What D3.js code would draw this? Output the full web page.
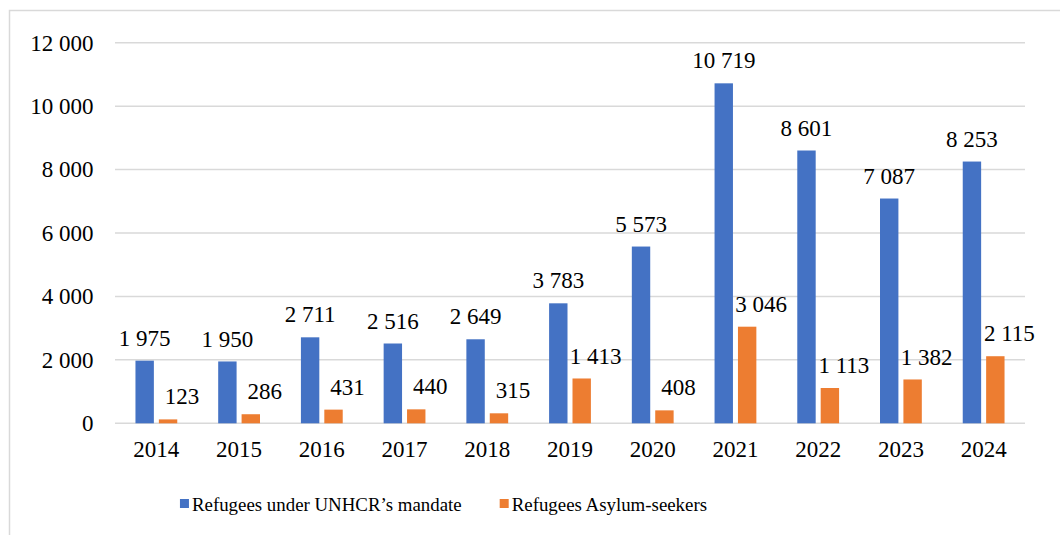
<!DOCTYPE html>
<html>
<head>
<meta charset="utf-8">
<script src="https://cdn.jsdelivr.net/npm/d3@7"></script>
</head>
<body style="margin:0">
<svg id="chart" width="1060" height="535"></svg>
<script>
const years = ["2014","2015","2016","2017","2018","2019","2020","2021","2022","2023","2024"];
const refugeesMandate = [1975, 1950, 2711, 2516, 2649, 3783, 5573, 10719, 8601, 7087, 8253];
const asylumSeekers = [123, 286, 431, 440, 315, 1413, 408, 3046, 1113, 1382, 2115];
const yTicks = [0, 2000, 4000, 6000, 8000, 10000, 12000];
const seriesNames = ["Refugees under UNHCR\u2019s mandate", "Refugees Asylum-seekers"];
const seriesColors = ["#4472C4", "#ED7D31"];

const FONT = '"Liberation Serif", "Times New Roman", serif';
const svg = d3.select("#chart");

function measure(str, size) {
  const t = svg.append("text").style("font-family", FONT).style("font-size", size + "px").text(str);
  const w = t.node().getComputedTextLength();
  t.remove();
  return w;
}
const numSize = Math.min(23, 23 * 66 / measure("12 000", 23));

// outer frame
svg.append("rect").attr("x", 9.5).attr("y", 10.5).attr("width", 1100).attr("height", 600)
  .attr("fill", "none").attr("stroke", "#d9d9d9").attr("stroke-width", 1.5);

const plot = { left: 115, right: 1025, top: 42.7, bottom: 423.3 };
const x = d3.scaleBand().domain(years).range([plot.left, plot.right]).paddingInner(0).paddingOuter(0);
const y = d3.scaleLinear().domain([0, 12000]).range([plot.bottom, plot.top]);

const fmt = v => d3.format(",")(v).replace(/,/g, " ");

// gridlines
svg.append("g").selectAll("line").data(yTicks).join("line")
  .attr("x1", plot.left).attr("x2", plot.right)
  .attr("y1", d => y(d)).attr("y2", d => y(d))
  .attr("stroke", "#d9d9d9").attr("stroke-width", 1.5);

function styleText(sel, size) {
  sel.style("font-family", FONT).style("font-size", size + "px").attr("fill", "#000");
}

// y axis labels
const yAxis = d3.axisLeft(y).tickValues(yTicks).tickFormat(fmt).tickSize(0).tickPadding(0);
const yg = svg.append("g").attr("transform", `translate(${plot.left - 21.5},0)`).call(yAxis);
yg.attr("font-family", null).attr("font-size", null);
yg.select(".domain").remove();
styleText(yg.selectAll("text"), numSize);

// x axis labels
const xAxis = d3.axisBottom(x).tickSize(0).tickPadding(0);
const xg = svg.append("g").attr("transform", `translate(0,${plot.bottom + 17})`).call(xAxis);
xg.attr("font-family", null).attr("font-size", null);
xg.select(".domain").remove();
styleText(xg.selectAll("text"), numSize);

const barW = 18.4, gap = 5;
const sub = d3.scaleOrdinal().domain([0, 1]).range([-gap / 2 - barW, gap / 2]);

const series = [refugeesMandate, asylumSeekers];
series.forEach((vals, si) => {
  const g = svg.append("g");
  const cx = d => x(years[d]) + x.bandwidth() / 2;
  g.selectAll("rect").data(vals.map((v, i) => ({ v, i }))).join("rect")
    .attr("x", d => cx(d.i) + sub(si))
    .attr("y", d => y(d.v))
    .attr("width", barW)
    .attr("height", d => y(0) - y(d.v))
    .attr("fill", seriesColors[si]);
  const labelShift = si === 0 ? 0 : 14;
  const t = g.selectAll("text").data(vals.map((v, i) => ({ v, i }))).join("text")
    .attr("x", d => cx(d.i) + sub(si) + barW / 2 + labelShift)
    .attr("y", d => y(d.v) - 23)
    .attr("dy", "0.35em")
    .attr("text-anchor", "middle")
    .text(d => fmt(d.v));
  styleText(t, numSize);
});

// legend: centred on the reference legend centre, items laid out by measured width
const legSize = Math.min(22, 22 * 270 / measure(seriesNames[0], 22));
const widths = seriesNames.map(s => measure(s, legSize));
const sw = 9, sgap = 3, itemGap = 38;
const total = widths.reduce((a, w) => a + sw + sgap + w, 0) + itemGap;
let cursor = 443.5 - total / 2;
seriesNames.forEach((name, i) => {
  svg.append("rect").attr("x", cursor).attr("y", 499).attr("width", sw).attr("height", sw).attr("fill", seriesColors[i]);
  const t = svg.append("text").attr("x", cursor + sw + sgap).attr("y", 504).attr("dy", "0.35em").text(name);
  styleText(t, legSize);
  cursor += sw + sgap + widths[i] + itemGap;
});
</script>
</body>
</html>
